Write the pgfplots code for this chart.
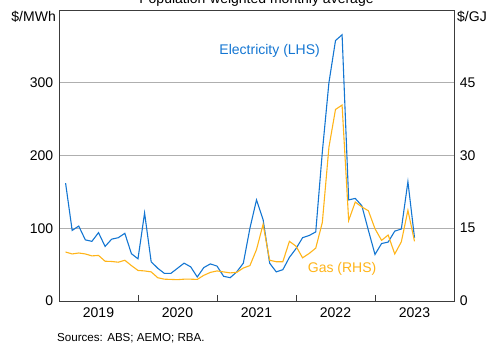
\documentclass[border=0pt]{standalone}
\usepackage{fontspec}
\setmainfont{Liberation Sans}
\usepackage{pgfplots}
\pgfplotsset{compat=1.18}
\definecolor{elec}{RGB}{20,118,210}
\definecolor{gas}{RGB}{255,180,25}
\definecolor{gridc}{RGB}{175,175,175}
\definecolor{axc}{RGB}{60,60,60}
\begin{document}
\fontsize{14bp}{16bp}\selectfont
\begin{tikzpicture}
\pgfplotsset{
  common/.style={
    at={(0,0)}, anchor=south west,
    scale only axis, width=395bp, height=291bp,
    xmin=0, xmax=60,
    axis line style={line width=0.9bp, axc},
    every tick/.style={axc, line width=0.9bp},
    tick label style={font=\fontsize{14bp}{16bp}\selectfont},
    /pgf/number format/assume math mode=true,
    major tick length=0pt,
  }
}
\begin{axis}[common, name=main,
  ymin=0, ymax=400,
  xtick={6,18,30,42,54}, xticklabels={2019,2020,2021,2022,2023},
  minor xtick={12,24,36,48}, minor tick length=6bp,
  xtick pos=left, ytick pos=left,
  ytick={0,100,200,300},
  ymajorgrids, grid style={gridc, line width=0.8bp},
  yticklabel style={xshift=-1bp},
  xticklabel style={yshift=-2bp},
]
\addplot[elec, line width=1.1bp, no markers] coordinates {
(1,162)(2,97)(3,103)(4,84)(5,82)(6,94)(7,75)(8,85)(9,87)(10,93)
(11,65)(12,58)(13,121)(14,54)(15,45)(16,38)(17,38)(18,45)(19,52)(20,47)
(21,33)(22,46)(23,51)(24,48)(25,34)(26,32)(27,40)(28,52)(29,100)(30,139)
(31,112)(32,52)(33,40)(34,43)(35,60)(36,72)(37,87)(38,90)(39,95)(40,205)
(41,300)(42,358)(43,366)(44,139)(45,141)(46,131)(47,97)(48,64)(49,79)(50,81)
(51,96)(52,99)(53,164)(54,87)
};
\node[elec, font=\fontsize{14bp}{16bp}\selectfont] at (axis cs:32,344) {Electricity (LHS)};
\end{axis}
\begin{axis}[common,
  ymin=0, ymax=60,
  axis x line=none, axis y line*=right,
  ytick={0,15,30,45},
  yticklabel style={xshift=1bp},
]
\addplot[gas, line width=1.1bp, no markers] coordinates {
(1,10.1)(2,9.7)(3,9.9)(4,9.7)(5,9.3)(6,9.4)(7,8.2)(8,8.15)(9,8.0)(10,8.4)
(11,7.3)(12,6.3)(13,6.2)(14,6.0)(15,4.8)(16,4.5)(17,4.45)(18,4.4)(19,4.5)(20,4.5)
(21,4.45)(22,5.3)(23,5.9)(24,6.2)(25,6.0)(26,5.8)(27,5.9)(28,6.8)(29,7.3)(30,10.6)
(31,15.8)(32,8.4)(33,8.1)(34,8.1)(35,12.3)(36,11.3)(37,8.9)(38,9.8)(39,10.9)(40,16.2)
(41,31.7)(42,39.5)(43,40.4)(44,16.6)(45,20.4)(46,19.4)(47,18.6)(48,14.9)(49,12.5)(50,13.6)
(51,9.7)(52,12.2)(53,18.7)(54,12.3)
};
\node[gas, font=\fontsize{14bp}{16bp}\selectfont] at (axis cs:43,6.6) {Gas (RHS)};
\end{axis}
\node[anchor=north east, inner sep=0pt] at ([xshift=-3bp,yshift=-1bp]main.north west) {\$/MWh};
\node[anchor=north west, inner sep=0pt] at ([xshift=3bp,yshift=-1bp]main.north east) {\$/GJ};
\node[anchor=base] at ([yshift=6bp]main.north) {Population-weighted monthly average};
\node[anchor=base west, inner sep=0pt, font=\fontsize{11.6bp}{13bp}\selectfont] at ([xshift=-2bp,yshift=-40bp]main.south west) {Sources: ABS; AEMO; RBA.};
\pgfresetboundingbox
\useasboundingbox (-59bp,-42bp) rectangle (430bp,301bp);
\end{tikzpicture}
\end{document}
